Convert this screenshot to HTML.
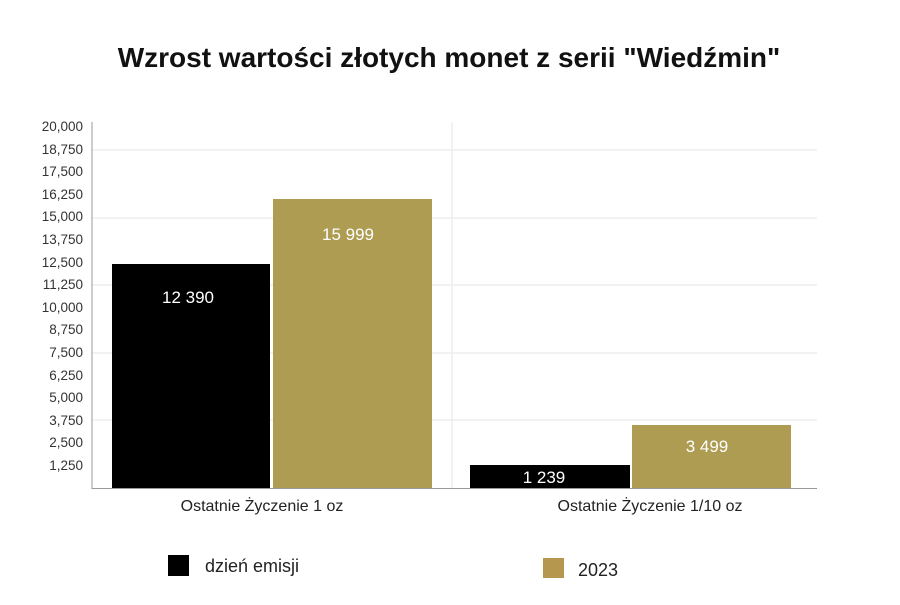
<!DOCTYPE html>
<html><head><meta charset="utf-8"><style>
body{margin:0;background:#fff;}
svg text{font-family:"Liberation Sans",sans-serif;}
</style></head><body>
<svg width="900" height="600" xmlns="http://www.w3.org/2000/svg">
<rect width="900" height="600" fill="#fff"/>
<text x="449" y="67" text-anchor="middle" font-size="28" font-weight="bold" fill="#111">Wzrost wartości złotych monet z serii "Wiedźmin"</text>
<g stroke="#eeeeee" stroke-width="1.5">
<line x1="92" y1="150" x2="817" y2="150"/>
<line x1="92" y1="218" x2="817" y2="218"/>
<line x1="92" y1="285" x2="817" y2="285"/>
<line x1="92" y1="353" x2="817" y2="353"/>
<line x1="92" y1="420" x2="817" y2="420"/>
<line x1="452" y1="122" x2="452" y2="488"/>
</g>
<g stroke="#999" stroke-width="1">
<line x1="92" y1="122" x2="92" y2="489"/>
<line x1="92" y1="488.5" x2="817" y2="488.5"/>
</g>
<g font-size="13.5" fill="#333" text-anchor="end">
<text x="83" y="131">20,000</text><text x="83" y="154">18,750</text><text x="83" y="176">17,500</text><text x="83" y="199">16,250</text><text x="83" y="221">15,000</text><text x="83" y="244">13,750</text><text x="83" y="267">12,500</text><text x="83" y="289">11,250</text><text x="83" y="312">10,000</text><text x="83" y="334">8,750</text><text x="83" y="357">7,500</text><text x="83" y="380">6,250</text><text x="83" y="402">5,000</text><text x="83" y="425">3,750</text><text x="83" y="447">2,500</text><text x="83" y="470">1,250</text>
</g>
<rect x="112" y="264" width="158" height="224" fill="#000"/>
<rect x="273" y="199" width="159" height="289" fill="#ad9c52"/>
<rect x="470" y="465" width="160" height="23" fill="#000"/>
<rect x="632" y="425" width="159" height="63" fill="#ad9c52"/>
<g font-size="17" fill="#fff" text-anchor="middle">
<text x="188" y="303">12 390</text>
<text x="348" y="240">15 999</text>
<text x="544" y="483">1 239</text>
<text x="707" y="452">3 499</text>
</g>
<g font-size="16" fill="#222" text-anchor="middle">
<text x="262" y="511">Ostatnie Życzenie 1 oz</text>
<text x="650" y="511">Ostatnie Życzenie 1/10 oz</text>
</g>
<rect x="168" y="555" width="21" height="21" fill="#000"/>
<text x="205" y="572" font-size="18" fill="#222">dzień emisji</text>
<rect x="543" y="558" width="21" height="20" fill="#b6974e"/>
<text x="578" y="576" font-size="18" fill="#222">2023</text>
</svg>
</body></html>
